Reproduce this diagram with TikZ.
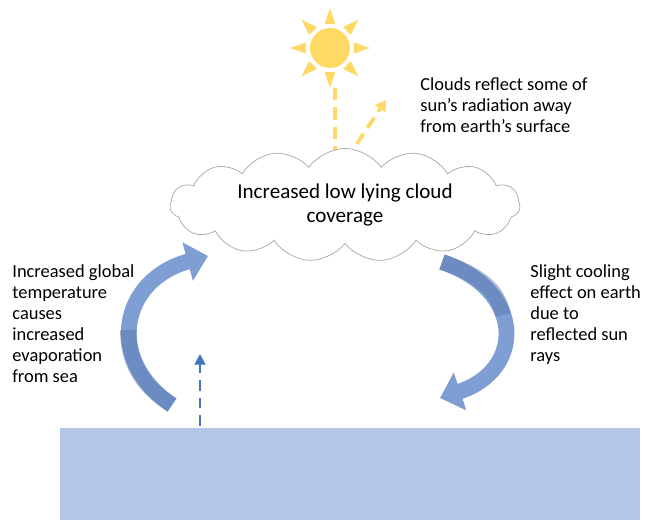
\documentclass[tikz,border=0pt]{standalone}
\usepackage{fontspec}
\setmainfont{Carlito}
\usetikzlibrary{shapes.symbols,arrows.meta,calc}
\definecolor{sun}{HTML}{FFD966}
\definecolor{sea}{HTML}{B4C7E7}
\definecolor{arr}{HTML}{7F9FD4}
\definecolor{arrd}{HTML}{5B79AE}
\definecolor{dblue}{HTML}{4472C4}
\tikzset{
 lbl/.style={align=left,font=\fontsize{10.5}{12}\selectfont,anchor=north west,inner sep=0},
 ydash/.style={draw=sun,line width=2.2pt,dash pattern=on 7pt off 4pt,-{Triangle[length=6pt,width=7pt]}},
 bigarrow/.style={line width=9pt,-{Triangle[length=12pt,width=22pt]}}
}
\begin{document}
\begin{tikzpicture}[x=0.02cm,y=-0.02cm]
\useasboundingbox (0,0) rectangle (652,524);
\fill[sea] (60,428) rectangle (640,520);
% sun
\fill[sun] (330,48) circle (20);
\foreach \a in {0,45,...,315}{
 \fill[sun] ($(330,48)+(\a:24)+(\a+90:5.5)$) -- ($(330,48)+(\a:40)$) -- ($(330,48)+(\a:24)+(\a-90:5.5)$) -- cycle;}
\coordinate (s1) at (335,88); \coordinate (s2) at (335,165);
\coordinate (r1) at (346,160); \coordinate (r2) at (386,100);
\draw[ydash] (s1) -- (s2);
\draw[ydash] (r1) -- (r2);
\node[lbl] (t1) at (420,77) {Clouds reflect some of\\sun’s radiation away\\from earth’s surface};
\node[cloud,cloud puffs=15,cloud puff arc=110,aspect=4.5,draw=gray!70,fill=white,minimum width=7cm,minimum height=1.65cm,align=center,font=\fontsize{12}{14}\selectfont] (cloud) at (345,205) {Increased low lying cloud\\coverage};
\coordinate (a1) at (172,405); \coordinate (a2) at (208,256);
\draw[bigarrow,arr] (a1) .. controls (105,360) and (120,280) .. (a2);
\draw[line width=9pt,arrd,opacity=0.5] (a1) .. controls (140,385) and (128,360) .. (128,330);
\coordinate (b1) at (442,262); \coordinate (b2) at (440,398);
\draw[bigarrow,arr] (b1) .. controls (525,290) and (525,370) .. (b2);
\draw[line width=9pt,arrd,opacity=0.5] (b1) .. controls (480,275) and (498,290) .. (503,315);
\node[lbl] (t2) at (12,264) {Increased global\\temperature\\causes\\increased\\evaporation\\from sea};
\node[lbl] (t3) at (530,264) {Slight cooling\\effect on earth\\due to\\reflected sun\\rays};
\coordinate (d1) at (200,426); \coordinate (d2) at (200,354);
\draw[draw=dblue,line width=1.6pt,dash pattern=on 6pt off 4pt,-{Triangle[length=6pt,width=6pt]}] (d1) -- (d2);
\end{tikzpicture}
\end{document}
